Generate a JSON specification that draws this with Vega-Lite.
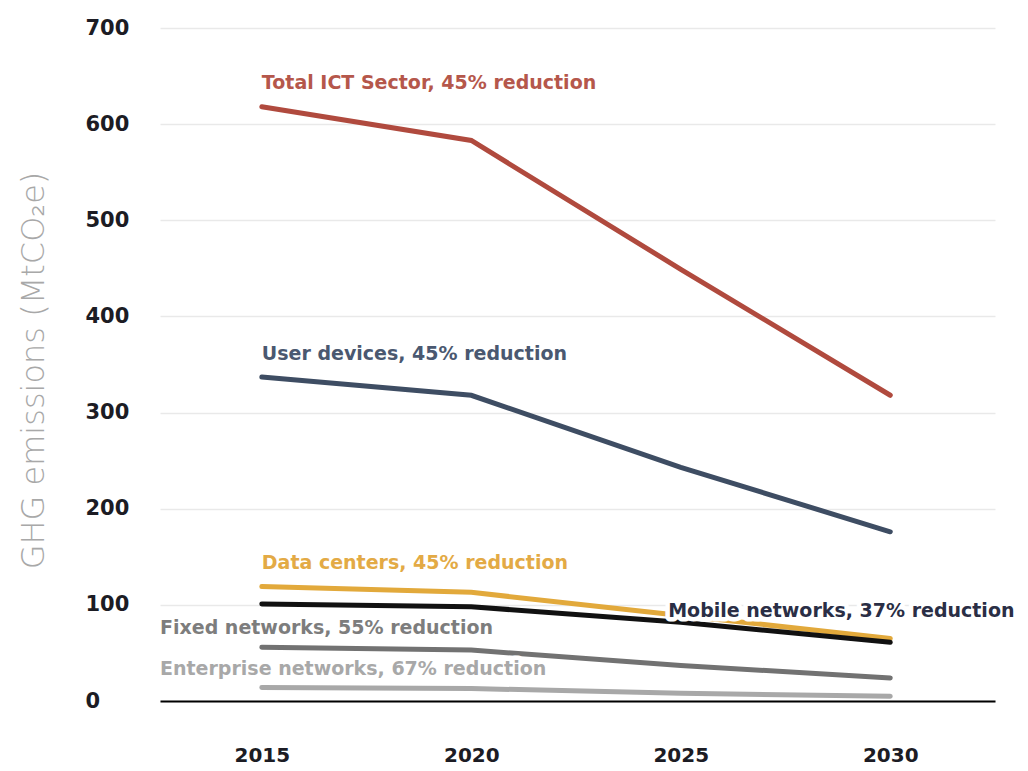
{
  "$schema": "https://vega.github.io/schema/vega-lite/v6.json",
  "width": 835,
  "height": 673,
  "padding": {"left": 160, "top": 28, "right": 33, "bottom": 70},
  "autosize": {"type": "none"},
  "background": "white",
  "config": {"view": {"stroke": null}, "font": "DejaVu Sans"},
  "datasets": {
    "lines": [
      {"series": "Total ICT Sector", "year": 2015, "value": 618},
      {"series": "Total ICT Sector", "year": 2020, "value": 583},
      {"series": "Total ICT Sector", "year": 2025, "value": 449},
      {"series": "Total ICT Sector", "year": 2030, "value": 318},
      {"series": "User devices", "year": 2015, "value": 337},
      {"series": "User devices", "year": 2020, "value": 318},
      {"series": "User devices", "year": 2025, "value": 243},
      {"series": "User devices", "year": 2030, "value": 176},
      {"series": "Data centers", "year": 2015, "value": 119},
      {"series": "Data centers", "year": 2020, "value": 113},
      {"series": "Data centers", "year": 2025, "value": 89},
      {"series": "Data centers", "year": 2030, "value": 65},
      {"series": "Mobile networks", "year": 2015, "value": 101},
      {"series": "Mobile networks", "year": 2020, "value": 98},
      {"series": "Mobile networks", "year": 2025, "value": 82},
      {"series": "Mobile networks", "year": 2030, "value": 61},
      {"series": "Fixed networks", "year": 2015, "value": 56},
      {"series": "Fixed networks", "year": 2020, "value": 53},
      {"series": "Fixed networks", "year": 2025, "value": 37},
      {"series": "Fixed networks", "year": 2030, "value": 24},
      {"series": "Enterprise networks", "year": 2015, "value": 14},
      {"series": "Enterprise networks", "year": 2020, "value": 13},
      {"series": "Enterprise networks", "year": 2025, "value": 8},
      {"series": "Enterprise networks", "year": 2030, "value": 5}
    ],
    "labels": [
      {"series": "Total ICT Sector", "year": 2015, "value": 643, "label": "Total ICT Sector, 45% reduction"},
      {"series": "User devices", "year": 2015, "value": 361, "label": "User devices, 45% reduction"},
      {"series": "Data centers", "year": 2015, "value": 144, "label": "Data centers, 45% reduction"},
      {"series": "Fixed networks", "year": 2012.57, "value": 76, "label": "Fixed networks, 55% reduction"},
      {"series": "Enterprise networks", "year": 2012.57, "value": 33, "label": "Enterprise networks, 67% reduction"},
      {"series": "Mobile networks", "year": 2024.7, "value": 94, "label": "Mobile networks, 37% reduction"}
    ]
  },
  "layer": [
    {
      "data": {"name": "lines"},
      "mark": {"type": "line", "strokeWidth": 5, "strokeCap": "round"},
      "encoding": {
        "x": {
          "field": "year", "type": "quantitative",
          "scale": {"domain": [2012.57, 2032.5], "nice": false, "zero": false},
          "axis": {
            "values": [2015, 2020, 2025, 2030], "format": "d", "title": null,
            "grid": false, "ticks": false, "domain": true, "domainColor": "#000000", "domainWidth": 2,
            "labelFont": "DejaVu Sans", "labelFontWeight": "bold", "labelFontSize": 20, "labelColor": "#1c1c24",
            "labelPadding": 44
          }
        },
        "y": {
          "field": "value", "type": "quantitative",
          "scale": {"domain": [0, 700], "nice": false},
          "axis": {
            "values": [0, 100, 200, 300, 400, 500, 600, 700],
            "title": "GHG emissions (MtCO₂e)", "titleFont": "DejaVu Sans", "titleFontWeight": 200,
            "titleFontSize": 32, "titleColor": "#a8a8a8", "titleX": -127, "titleY": 342, "titleAngle": -90,
            "titleAlign": "center", "titleBaseline": "middle",
            "domain": false, "ticks": false, "grid": true, "gridColor": "#e9e9e9", "gridWidth": 1.5,
            "labelAlign": "left", "labelPadding": 75, "labelFont": "DejaVu Sans", "labelFontWeight": "bold",
            "labelFontSize": 21, "labelColor": "#1c1c24"
          }
        },
        "color": {
          "field": "series", "type": "nominal", "legend": null,
          "scale": {
            "domain": ["Total ICT Sector", "User devices", "Data centers", "Mobile networks", "Fixed networks", "Enterprise networks"],
            "range": ["#b04a3e", "#3e4d63", "#e2a93b", "#111111", "#727272", "#a8a8a8"]
          }
        },
        "order": {"field": "year"}
      }
    },
    {
      "data": {"name": "labels"},
      "mark": {"type": "text", "align": "left", "baseline": "middle", "font": "DejaVu Sans", "fontWeight": "bold", "fontSize": 19, "stroke": "white", "strokeWidth": 9, "strokeJoin": "round", "fill": "white"},
      "encoding": {
        "x": {"field": "year", "type": "quantitative"},
        "y": {"field": "value", "type": "quantitative"},
        "text": {"field": "label"}
      }
    },
    {
      "data": {"name": "labels"},
      "mark": {"type": "text", "align": "left", "baseline": "middle", "font": "DejaVu Sans", "fontWeight": "bold", "fontSize": 19},
      "encoding": {
        "x": {"field": "year", "type": "quantitative"},
        "y": {"field": "value", "type": "quantitative"},
        "text": {"field": "label"},
        "color": {
          "field": "series", "type": "nominal", "legend": null,
          "scale": {
            "domain": ["Total ICT Sector", "User devices", "Data centers", "Mobile networks", "Fixed networks", "Enterprise networks"],
            "range": ["#b5574b", "#4a5870", "#e3aa45", "#2a2e45", "#7d7d7d", "#a8a8a8"]
          }
        }
      }
    }
  ],
  "resolve": {"scale": {"color": "independent"}}
}
